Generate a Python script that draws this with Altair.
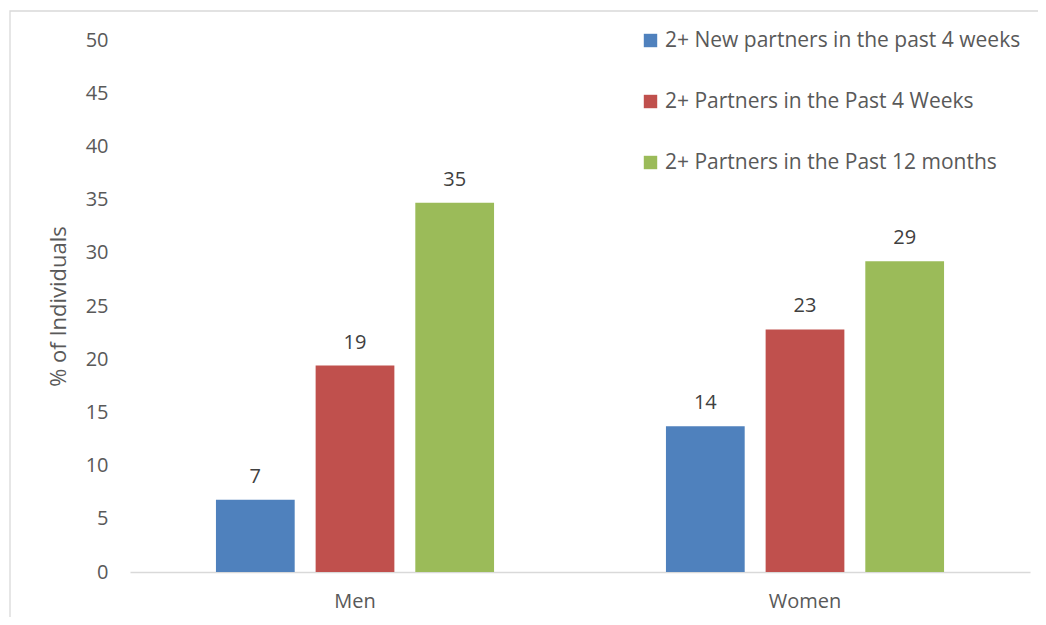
import altair as alt
import pandas as pd

groups = ["Men", "Women"]
series = ["2+ New partners in the past 4 weeks",
          "2+ Partners in the Past 4 Weeks",
          "2+ Partners in the Past 12 months"]
men_values = [6.8, 19.4, 34.7]
women_values = [13.7, 22.8, 29.2]
colors = ["#4F81BD", "#C0504D", "#9BBB59"]

rows = []
for g, vals in zip(groups, [men_values, women_values]):
    for s, v in zip(series, vals):
        rows.append({"group": g, "series": s, "value": v, "label": f"{round(v):d}"})
df = pd.DataFrame(rows)

FONT = "Open Sans"
GRAY = "#595959"

x = alt.X("group:N", sort=groups, title=None,
          scale=alt.Scale(paddingInner=0.382, paddingOuter=0.191),
          axis=alt.Axis(labelAngle=0, ticks=False, domainColor="#D9D9D9",
                        domainWidth=1.3, labelFontSize=20, labelColor=GRAY,
                        labelFont=FONT, labelPadding=19))
xo = alt.XOffset("series:N", sort=series,
                 scale=alt.Scale(paddingInner=0.21, paddingOuter=0))
y = alt.Y("value:Q", title="% of Individuals",
          scale=alt.Scale(domain=[0, 50], nice=False),
          axis=alt.Axis(values=list(range(0, 51, 5)), grid=False, domain=False,
                        ticks=False, labelFontSize=20, labelColor=GRAY,
                        labelFont=FONT, labelPadding=22,
                        titleFont=FONT, titleFontSize=22, titleColor=GRAY,
                        titleFontWeight="normal", titlePadding=15))

bars = alt.Chart(df).mark_bar().encode(
    x=x, xOffset=xo, y=y,
    color=alt.Color("series:N", sort=series,
                    scale=alt.Scale(domain=series, range=colors),
                    legend=alt.Legend(title=None, orient="none",
                                      legendX=510, legendY=-10,
                                      symbolType="square", symbolSize=180,
                                      symbolStrokeWidth=0, labelLimit=0,
                                      labelFont=FONT, labelFontSize=21,
                                      labelColor=GRAY, rowPadding=39,
                                      labelOffset=4)),
)

labels = alt.Chart(df).mark_text(baseline="alphabetic", dy=-17, fontSize=20,
                                 font=FONT, color="#404040").encode(
    x=x, xOffset=xo, y=y, text="label:N")

frame = alt.Chart(pd.DataFrame({"f": [0]})).mark_rect(
    fill=None, stroke="#D9D9D9", strokeWidth=1.3).encode(
    x=alt.value(-120), x2=alt.value(960), y=alt.value(-29), y2=alt.value(620))

chart = (frame + bars + labels).properties(
    width=900, height=532,
    autosize=alt.AutoSizeParams(type="none"),
    padding={"left": 122, "top": 32, "right": 8, "bottom": 45},
    background="white",
).configure_view(stroke=None)

chart.save("out.html", embed_options={"renderer": "svg", "actions": False})
